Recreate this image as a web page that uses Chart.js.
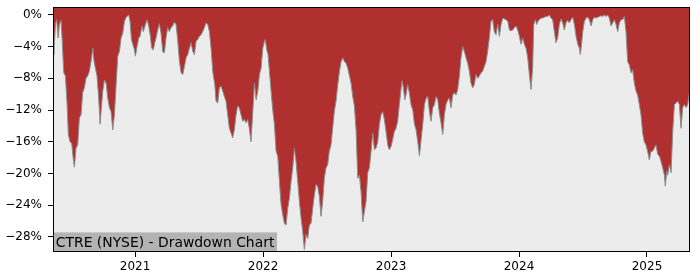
<!DOCTYPE html>
<html><head><meta charset="utf-8">
<script src="https://cdn.jsdelivr.net/npm/chart.js@4"></script>
<style>html,body{margin:0;padding:0;background:#fff}#wrap{width:700px;height:280px}</style>
</head><body><div id="wrap"><canvas id="c" width="700" height="280"></canvas></div>
<script>
const title = "CTRE (NYSE) - Drawdown Chart";
const xTicks = [2021, 2022, 2023, 2024, 2025];
const yTicks = [0, -4, -8, -12, -16, -20, -24, -28];
const xRange = [2020.359, 2025.336];
const yRange = [-29.9, 1.0];

// dates as decimal years
const dates = [
2020.359,2020.365,2020.378,2020.388,2020.399,2020.409,2020.422,2020.430,2020.443,2020.456,
2020.469,2020.479,2020.492,2020.505,2020.518,2020.526,2020.539,2020.552,2020.565,2020.578,
2020.591,2020.604,2020.617,2020.630,2020.643,2020.656,2020.670,2020.680,2020.690,2020.703,
2020.716,2020.727,2020.737,2020.748,2020.761,2020.774,2020.787,2020.800,2020.813,2020.826,
2020.839,2020.852,2020.865,2020.878,2020.891,2020.904,2020.917,2020.930,2020.951,2020.961,
2020.972,2020.982,2020.992,2021.003,2021.013,2021.029,2021.039,2021.055,2021.065,2021.081,
2021.094,2021.107,2021.120,2021.130,2021.143,2021.154,2021.164,2021.177,2021.190,2021.203,
2021.216,2021.229,2021.242,2021.255,2021.268,2021.281,2021.294,2021.307,2021.320,2021.334,
2021.347,2021.360,2021.373,2021.386,2021.399,2021.412,2021.425,2021.438,2021.451,2021.464,
2021.477,2021.490,2021.503,2021.516,2021.529,2021.542,2021.555,2021.568,2021.581,2021.594,
2021.607,2021.623,
2021.633,2021.646,2021.659,2021.672,2021.685,2021.698,2021.711,2021.724,2021.737,2021.750,
2021.763,2021.776,2021.789,2021.802,2021.815,2021.828,2021.841,2021.854,2021.867,2021.880,
2021.893,2021.906,2021.920,2021.933,2021.946,2021.959,2021.972,2021.985,2021.998,2022.011,
2022.018,2022.029,2022.039,2022.050,2022.063,2022.076,2022.089,2022.102,2022.115,2022.128,
2022.141,2022.154,2022.167,2022.180,2022.193,2022.206,2022.219,2022.232,2022.245,2022.258,
2022.271,2022.284,2022.297,2022.310,2022.323,2022.336,2022.349,2022.362,2022.375,2022.388,
2022.401,2022.414,2022.427,2022.440,2022.453,2022.466,2022.479,2022.492,2022.505,2022.518,
2022.531,2022.544,2022.557,2022.570,2022.584,2022.597,2022.610,2022.623,2022.636,2022.649,
2022.662,2022.675,2022.688,2022.701,2022.714,2022.727,2022.740,2022.753,2022.766,2022.779,
2022.792,2022.805,2022.818,2022.831,2022.844,2022.857,
2022.870,2022.883,2022.896,2022.909,2022.922,2022.935,2022.948,2022.961,2022.974,2022.987,
2023.000,2023.013,2023.026,2023.039,2023.052,2023.065,2023.078,2023.086,2023.097,2023.107,
2023.117,2023.130,2023.143,2023.156,2023.170,2023.183,2023.196,2023.209,2023.222,2023.235,
2023.248,2023.261,2023.274,2023.287,2023.300,2023.313,2023.326,2023.339,2023.352,2023.365,
2023.378,2023.391,2023.404,2023.417,2023.430,2023.443,2023.456,2023.469,2023.482,2023.495,
2023.508,2023.521,2023.534,2023.547,2023.560,2023.573,2023.586,2023.599,2023.612,2023.625,
2023.638,2023.651,2023.664,2023.677,2023.690,2023.703,2023.716,2023.729,2023.742,2023.755,
2023.768,2023.781,2023.794,2023.807,2023.820,2023.834,2023.847,2023.860,2023.873,2023.886,
2023.899,2023.912,2023.925,2023.938,2023.951,2023.964,2023.977,2023.990,2024.003,2024.016,
2024.029,2024.042,2024.055,2024.068,2024.081,2024.094,2024.107,
2024.115,2024.128,2024.138,2024.149,2024.159,2024.172,2024.185,2024.198,2024.211,2024.224,
2024.237,2024.250,2024.263,2024.276,2024.289,2024.302,2024.315,2024.328,2024.341,2024.354,
2024.367,2024.380,2024.393,2024.406,2024.420,2024.433,2024.446,2024.459,2024.472,2024.479,
2024.490,2024.498,2024.511,2024.524,2024.537,2024.550,2024.563,2024.576,2024.589,2024.602,
2024.615,2024.628,2024.641,2024.654,2024.667,2024.680,2024.693,2024.706,2024.719,2024.732,
2024.745,2024.758,2024.771,2024.784,2024.797,2024.810,2024.823,2024.836,2024.849,2024.862,
2024.875,2024.888,2024.901,2024.914,2024.927,2024.940,2024.953,2024.966,2024.979,2024.992,
2025.005,2025.018,2025.031,2025.044,2025.057,2025.070,2025.084,2025.097,2025.110,2025.123,
2025.136,2025.143,2025.154,2025.162,2025.175,2025.188,2025.201,2025.214,2025.227,2025.240,
2025.253,2025.266,2025.279,2025.292,2025.305,2025.318,2025.331
];

// drawdown in percent
const drawdown = [
-4.0,-5.0,-1.2,-0.6,-2.9,-1.2,-0.7,-2.9,-7.3,-7.7,
-11.3,-15.1,-16.0,-16.2,-18.3,-19.2,-16.8,-16.4,-13.0,-12.6,
-9.8,-9.2,-8.0,-7.7,-7.1,-5.9,-4.2,-5.9,-6.7,-7.7,
-10.5,-13.8,-11.7,-9.6,-8.2,-8.6,-10.5,-11.7,-12.2,-14.5,
-12.6,-8.8,-5.2,-4.6,-2.9,-2.3,-0.8,-0.3,0.0,-0.8,
-3.1,-3.7,-4.2,-5.2,-4.2,-2.9,-2.7,-1.4,-2.1,-1.2,
-0.6,-1.4,-2.7,-4.2,-4.4,-3.5,-2.9,-1.9,-1.1,-2.3,
-4.6,-4.8,-2.9,-1.6,-2.1,-1.6,-1.4,-0.9,-1.2,-3.3,
-5.9,-7.3,-7.5,-6.5,-5.4,-5.0,-4.2,-3.5,-4.6,-5.0,
-3.3,-3.1,-2.7,-2.5,-2.1,-1.6,-1.0,-1.2,-2.1,-4.2,
-7.1,-8.8,
-10.9,-11.1,-9.2,-9.0,-9.6,-10.3,-10.9,-12.6,-14.3,-14.9,
-15.5,-14.5,-12.6,-11.5,-11.7,-12.6,-13.4,-13.2,-13.6,-13.2,
-14.3,-16.0,-12.2,-8.6,-10.7,-9.6,-7.5,-6.7,-4.2,-3.3,
-3.1,-4.4,-5.0,-7.1,-9.6,-12.0,-13.8,-17.2,-17.8,-21.0,
-23.9,-25.2,-26.3,-26.5,-24.4,-23.1,-21.0,-19.3,-16.8,-18.5,
-21.0,-23.5,-25.6,-27.3,-29.6,-27.7,-28.2,-26.5,-26.3,-24.4,
-22.7,-21.4,-21.6,-22.9,-25.4,-23.5,-20.6,-19.3,-18.9,-17.2,
-16.4,-14.3,-12.2,-10.9,-8.8,-7.1,-5.9,-5.4,-5.9,-6.1,
-6.7,-7.7,-8.6,-10.3,-11.5,-14.5,-20.6,-20.2,-22.3,-26.1,
-24.8,-23.5,-19.9,-19.3,-17.2,-14.9,
-17.0,-16.8,-16.0,-13.8,-12.6,-12.2,-13.2,-14.7,-16.4,-17.0,
-16.6,-15.7,-14.7,-14.3,-13.4,-11.3,-9.4,-8.3,-9.2,-10.7,
-10.1,-8.8,-9.8,-11.3,-12.0,-13.8,-14.5,-16.0,-17.8,-15.7,
-13.8,-11.3,-10.5,-10.3,-12.2,-13.4,-11.7,-11.3,-10.3,-10.7,
-12.4,-13.6,-15.1,-12.6,-11.3,-10.7,-10.5,-11.7,-10.1,-9.8,
-10.1,-9.4,-7.7,-5.4,-4.0,-4.6,-5.4,-6.1,-7.1,-8.6,
-9.2,-8.8,-7.5,-8.0,-7.7,-7.3,-7.1,-6.5,-5.9,-4.6,
-2.9,-0.8,-0.6,-2.1,-2.5,-1.2,-2.7,-1.2,-0.4,-0.5,
-0.6,-0.8,-1.9,-2.0,-1.9,-1.6,-1.4,-1.9,-2.7,-3.7,
-2.9,-3.7,-4.2,-5.4,-7.5,-9.4,-6.5,
-1.2,-0.6,-1.2,-0.8,-0.6,-0.4,-0.4,-0.3,-0.2,-0.2,
0.0,-0.4,-0.6,-2.1,-3.5,-2.9,-1.2,-0.5,-1.0,-1.9,
-1.0,-0.7,-1.0,-0.6,-0.3,-1.2,-2.7,-3.7,-4.2,-5.0,
-3.5,-2.1,-0.8,-0.4,-0.3,-0.6,-1.4,-0.6,-0.3,-0.4,
-0.3,-0.2,-0.1,-0.2,0.0,-0.2,0.0,-0.4,-1.4,-1.0,
-0.6,-1.2,-2.1,-1.0,-0.6,-0.6,-0.2,-2.1,-5.9,-6.3,
-7.3,-6.9,-8.6,-9.6,-10.1,-11.3,-12.6,-14.9,-16.0,-16.4,
-17.2,-18.3,-17.2,-17.2,-16.8,-16.4,-17.6,-17.8,-18.5,-19.3,
-20.2,-21.6,-19.7,-20.2,-18.9,-19.9,-14.7,-11.3,-11.1,-10.9,
-11.3,-14.3,-11.7,-11.3,-11.7,-11.3,-9.8
];

const points = dates.map((d, i) => ({ x: d, y: drawdown[i] }));
const FONT_FAMILY = "'DejaVu Sans', sans-serif";

const framePlugin = {
  id: 'frame',
  beforeDraw(chart) {
    const { ctx, chartArea: a } = chart;
    ctx.save();
    ctx.fillStyle = '#ececec';
    ctx.fillRect(a.left, a.top, a.right - a.left, a.bottom - a.top);
    ctx.restore();
  },
  afterDatasetsDraw(chart) {
    const { ctx, chartArea: a } = chart;
    ctx.save();
    ctx.font = "13.9px " + FONT_FAMILY;
    const w = ctx.measureText(title).width;
    ctx.fillStyle = '#b3b3b3';
    ctx.fillRect(a.left, a.bottom - 19.6, w + 5.5, 19.6);
    ctx.fillStyle = '#000';
    ctx.textBaseline = 'alphabetic';
    ctx.textAlign = 'left';
    ctx.fillText(title, a.left + 2.8, a.bottom - 5.3);
    ctx.restore();
  },
  afterDraw(chart) {
    const { ctx, chartArea: a } = chart;
    ctx.save();
    ctx.strokeStyle = '#000';
    ctx.lineWidth = 1;
    ctx.strokeRect(Math.round(a.left) + 0.5, Math.round(a.top) + 0.5,
      Math.round(a.right - a.left) - 1, Math.round(a.bottom - a.top) - 1);
    ctx.restore();
  }
};

new Chart(document.getElementById('c'), {
  type: 'line',
  data: {
    datasets: [{
      data: points,
      fill: 'end',
      backgroundColor: '#b03030',
      borderColor: '#8c8c8c',
      borderWidth: 1,
      pointRadius: 0,
      tension: 0
    }]
  },
  options: {
    responsive: false,
    animation: false,
    devicePixelRatio: 1,
    layout: { padding: { top: 7, right: 10, left: 0, bottom: 0 } },
    plugins: { legend: { display: false }, tooltip: { enabled: false } },
    scales: {
      x: {
        type: 'linear',
        min: xRange[0],
        max: xRange[1],
        afterBuildTicks(scale) { scale.ticks = xTicks.map(v => ({ value: v })); },
        afterFit(scale) { scale.height = 28; scale.paddingLeft = 0; scale.paddingRight = 0; },
        grid: { display: true, drawOnChartArea: false, drawTicks: true, tickLength: 5, color: '#000', lineWidth: 1 },
        border: { display: false },
        ticks: {
          autoSkip: false, maxRotation: 0, padding: 3, color: '#000',
          font: { family: FONT_FAMILY, size: 12 },
          callback: v => String(v)
        }
      },
      y: {
        type: 'linear',
        min: yRange[0],
        max: yRange[1],
        afterBuildTicks(scale) { scale.ticks = yTicks.map(v => ({ value: v })); },
        afterFit(scale) { scale.width = 53; scale.paddingTop = 0; scale.paddingBottom = 0; },
        grid: { display: true, drawOnChartArea: false, drawTicks: true, tickLength: 5, color: '#000', lineWidth: 1 },
        border: { display: false },
        ticks: {
          autoSkip: false, padding: 6, color: '#000',
          font: { family: FONT_FAMILY, size: 12 },
          callback: v => (v < 0 ? '\u2212' + Math.abs(v) : String(v)) + '%'
        }
      }
    }
  },
  plugins: [framePlugin]
});
</script>
</body></html>
